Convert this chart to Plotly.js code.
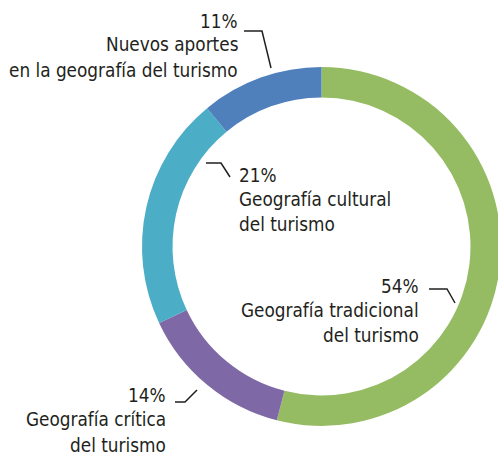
<!DOCTYPE html>
<html>
<head>
<meta charset="utf-8">
<script src="https://cdn.plot.ly/plotly-3.0.1.min.js"></script>
<style>
html,body{margin:0;padding:0;overflow:hidden;background:#fff;}
#chart{width:502px;height:455px;}
</style>
</head>
<body>
<div id="chart"></div>
<script>
// Data
var categories = [
  "Geografía tradicional del turismo",
  "Geografía crítica del turismo",
  "Geografía cultural del turismo",
  "Nuevos aportes en la geografía del turismo"
];
var values = [54, 14, 21, 11];
var labelLines = [
  ["Geografía tradicional", "del turismo"],
  ["Geografía crítica", "del turismo"],
  ["Geografía cultural", "del turismo"],
  ["Nuevos aportes", "en la geografía del turismo"]
];
var colors = ["#95BC62", "#7F68A6", "#4BADC6", "#4F80BC"];

// Layout helpers (pixel -> paper)
var W = 502, H = 455;
function px(x){ return x / W; }
function py(y){ return 1 - y / H; }

// label placement: anchor x, alignment, baselines (px), leader path points (px)
var labelPos = [
  {x: 420, anchor: "right", base: [292, 316, 341], leader: [[429,289],[447,289],[455,303]]},
  {x: 167, anchor: "right", base: [401, 425, 451], leader: [[175,402],[185,402],[197,390]]},
  {x: 238, anchor: "left",  base: [182, 205, 230], leader: [[206,163],[221,163],[230,177]]},
  {x: 239, anchor: "right", base: [27, 51, 76],    leader: [[244,31],[262,31],[271,68]]}
];

var fontFam = "'DejaVu Sans Condensed', 'Liberation Sans Narrow', sans-serif";
var annotations = [];
var shapes = [];
for (var i = 0; i < categories.length; i++) {
  var p = labelPos[i];
  var lines = [values[i] + "%"].concat(labelLines[i]);
  for (var j = 0; j < lines.length; j++) {
    annotations.push({
      xref: "paper", yref: "paper",
      x: px(p.x), y: py(p.base[j] - 6),
      xanchor: p.anchor, yanchor: "middle",
      text: lines[j], showarrow: false, borderpad: 0,
      font: {family: fontFam, size: 18.8, color: "#231F20"}
    });
  }
  var L = p.leader;
  var path = "M " + px(L[0][0]) + " " + py(L[0][1]);
  for (var k = 1; k < L.length; k++) path += " L " + px(L[k][0]) + " " + py(L[k][1]);
  shapes.push({type: "path", xref: "paper", yref: "paper", path: path,
               line: {color: "#231F20", width: 1.5}});
}

var trace = {
  type: "pie",
  labels: categories,
  values: values,
  hole: 0.83,
  sort: false,
  direction: "clockwise",
  rotation: 0,
  textinfo: "none",
  hoverinfo: "none",
  marker: {colors: colors, line: {width: 0}},
  domain: {x: [px(142), px(501)], y: [py(426), py(67)]},
  showlegend: false
};

var layout = {
  width: W, height: H,
  margin: {l: 0, r: 0, t: 0, b: 0},
  paper_bgcolor: "#fff",
  showlegend: false,
  annotations: annotations,
  shapes: shapes
};

Plotly.newPlot("chart", [trace], layout, {displayModeBar: false, staticPlot: true});
</script>
</body>
</html>
